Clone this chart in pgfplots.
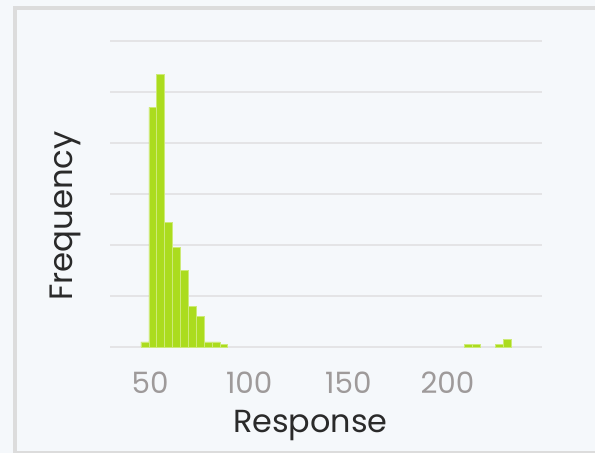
\documentclass[border=0pt]{standalone}
\usepackage{fontspec}
\setmainfont{Poppins}
\usepackage{pgfplots}
\pgfplotsset{compat=1.18}
\definecolor{bg}{HTML}{F5F8FB}
\definecolor{frame}{HTML}{DCDCDC}
\definecolor{gridc}{HTML}{E4E4E6}
\definecolor{barc}{HTML}{ABDC1E}
\definecolor{tickc}{HTML}{9E9A9A}
\definecolor{labc}{HTML}{2A2A2A}
\begin{document}
\begin{tikzpicture}[x=1bp,y=1bp]
\path[use as bounding box] (0,0) rectangle (595,453);
\fill[bg] (0,0) rectangle (595,453);
\begin{scope}
\clip (0,0) rectangle (595,453);
\draw[frame, line width=4bp] (14.7,445) rectangle (620,0);
\end{scope}
\begin{axis}[
  at={(110bp,106bp)}, anchor=south west,
  scale only axis, width=432bp, height=306bp,
  xmin=29.8, xmax=247.7, ymin=0, ymax=120,
  xtick={50,100,150,200},
  ytick={0,20,...,120}, yticklabels={},
  ymajorgrids,
  grid style={gridc, line width=1.5bp},
  axis line style={draw=none},
  tick style={draw=none},
  /pgf/number format/assume math mode=true,
  xticklabel style={font=\fontsize{29.5}{29.5}\selectfont, text=tickc, inner sep=0pt, anchor=north, yshift=-25bp},
  xlabel={Response}, ylabel={Frequency},
  xlabel style={font=\fontsize{32}{32}\selectfont, text=labc, at={(axis description cs:0.464,-0.2565)}, anchor=center, inner sep=0pt},
  ylabel style={font=\fontsize{32.5}{32.5}\selectfont, text=labc, at={(axis description cs:-0.104,0.428)}, anchor=center, inner sep=0pt, rotate=0},
  clip=false,
]
\addplot[ybar, bar width=3.976, fill=barc, draw=white!40!barc, line width=0.5bp] coordinates {
(47.39,2) (51.36,94) (55.34,107) (59.32,49) (63.29,39) (67.27,30)
(71.24,16) (75.22,12) (79.20,2) (83.17,2) (87.15,1)
(210.40,1) (214.38,1) (226.31,1) (230.29,3)
};
\end{axis}
\end{tikzpicture}
\end{document}
